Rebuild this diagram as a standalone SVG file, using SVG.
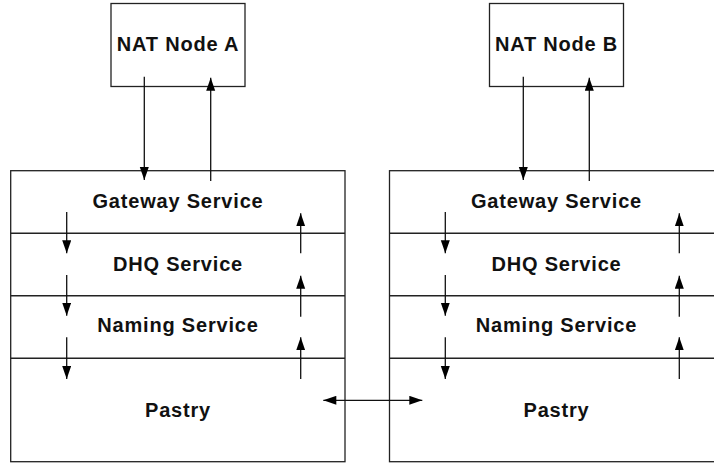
<svg xmlns="http://www.w3.org/2000/svg" width="714" height="463" viewBox="0 0 714 463">
<style>
.box{fill:#fff;stroke:#222;stroke-width:1.3}
.div{stroke:#222;stroke-width:1.4}
.lbl{font-family:"Liberation Sans",Arial,sans-serif;font-weight:bold;font-size:20px;letter-spacing:0.8px;fill:#111;text-anchor:middle}
.c{stroke:#111;stroke-width:1.3;fill:none;marker-end:url(#ah)}
.cb{stroke:#111;stroke-width:1.3;fill:none;marker-end:url(#ah);marker-start:url(#ahs)}
</style>
<defs>
<marker id="ah" markerWidth="14" markerHeight="10" refX="13" refY="4.5" orient="auto" markerUnits="userSpaceOnUse">
<path d="M0,0 L13,4.5 L0,9 Z" fill="#000"/>
</marker>
<marker id="ahs" markerWidth="14" markerHeight="10" refX="0" refY="4.5" orient="auto" markerUnits="userSpaceOnUse">
<path d="M13,0 L0,4.5 L13,9 Z" fill="#000"/>
</marker>
</defs>
<rect width="714" height="463" fill="#fff"/>
<g id="natA">
<rect class="box" x="111" y="3.5" width="134" height="83"/>
<text class="lbl" x="178" y="51">NAT Node A</text>
</g>
<g id="natB">
<rect class="box" x="489.5" y="3.5" width="134" height="83"/>
<text class="lbl" x="556.5" y="51">NAT Node B</text>
</g>
<g id="stackA">
<rect class="box" x="10.7" y="170.7" width="334.3" height="291"/>
<line class="div" x1="10.7" y1="233.3" x2="345" y2="233.3"/>
<line class="div" x1="10.7" y1="295.7" x2="345" y2="295.7"/>
<line class="div" x1="10.7" y1="358.3" x2="345" y2="358.3"/>
<g id="gatewayA"><text class="lbl" x="178" y="208">Gateway Service</text></g>
<g id="dhqA"><text class="lbl" x="178" y="270.5">DHQ Service</text></g>
<g id="namingA"><text class="lbl" x="178" y="331.5">Naming Service</text></g>
<g id="pastryA"><text class="lbl" x="178" y="416.5">Pastry</text></g>
</g>
<g id="stackB">
<rect class="box" x="389.5" y="170.7" width="334" height="291"/>
<line class="div" x1="389.5" y1="233.3" x2="723.5" y2="233.3"/>
<line class="div" x1="389.5" y1="295.7" x2="723.5" y2="295.7"/>
<line class="div" x1="389.5" y1="358.3" x2="723.5" y2="358.3"/>
<g id="gatewayB"><text class="lbl" x="556.5" y="208">Gateway Service</text></g>
<g id="dhqB"><text class="lbl" x="556.5" y="270.5">DHQ Service</text></g>
<g id="namingB"><text class="lbl" x="556.5" y="331.5">Naming Service</text></g>
<g id="pastryB"><text class="lbl" x="556.5" y="416.5">Pastry</text></g>
</g>
<g id="connectors">
<line class="c" x1="144.3" y1="76.7" x2="144.3" y2="180"/>
<line class="c" x1="210.7" y1="181" x2="210.7" y2="77.7"/>
<line class="c" x1="523.3" y1="76.7" x2="523.3" y2="180"/>
<line class="c" x1="589.3" y1="181" x2="589.3" y2="77.7"/>
<line class="c" x1="66.7" y1="212" x2="66.7" y2="253.3"/>
<line class="c" x1="66.7" y1="275" x2="66.7" y2="315.7"/>
<line class="c" x1="66.7" y1="337.3" x2="66.7" y2="379"/>
<line class="c" x1="300.7" y1="253.3" x2="300.7" y2="213.3"/>
<line class="c" x1="300.7" y1="316.7" x2="300.7" y2="275.7"/>
<line class="c" x1="300.7" y1="379" x2="300.7" y2="337.3"/>
<line class="c" x1="445.3" y1="212" x2="445.3" y2="253.3"/>
<line class="c" x1="445.3" y1="275" x2="445.3" y2="315.7"/>
<line class="c" x1="445.3" y1="337.3" x2="445.3" y2="379"/>
<line class="c" x1="679.3" y1="253.3" x2="679.3" y2="213.3"/>
<line class="c" x1="679.3" y1="316.7" x2="679.3" y2="275.7"/>
<line class="c" x1="679.3" y1="379" x2="679.3" y2="337.3"/>
<line class="cb" x1="323.3" y1="400.3" x2="422.3" y2="400.3"/>
</g>
</svg>
